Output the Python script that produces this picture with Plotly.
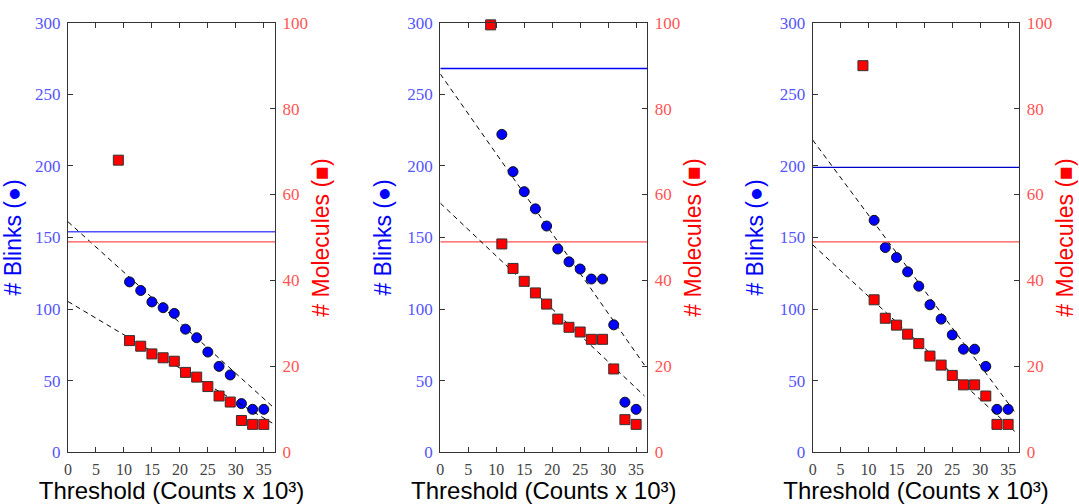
import plotly.graph_objects as go

# Threshold values (counts x 10^3)
blink_thresholds = [11, 13, 15, 17, 19, 21, 23, 25, 27, 29, 31, 33, 35]
molecule_thresholds = [9, 11, 13, 15, 17, 19, 21, 23, 25, 27, 29, 31, 33, 35]

# Number of blinks per threshold, one list per panel
blinks_a = [119, 113, 105, 101, 97, 86, 80, 70, 60, 54, 34, 30, 30]
blinks_b = [222, 196, 182, 170, 158, 142, 133, 128, 121, 121, 89, 35, 30]
blinks_c = [162, 143, 136, 126, 116, 103, 93, 82, 72, 72, 60, 30, 30]

# Number of molecules per threshold, one list per panel
molecules_a = [68, 26, 24.7, 22.9, 22, 21.2, 18.6, 17.5, 15.3, 13.1, 11.7, 7.4, 6.5, 6.5]
molecules_b = [99.5, 48.5, 42.8, 39.8, 37.1, 34.5, 31, 29.1, 28, 26.3, 26.3, 19.4, 7.6, 6.5]
molecules_c = [90, 35.5, 31.2, 29.6, 27.5, 25.3, 22.4, 20.3, 17.9, 15.7, 15.7, 13.1, 6.5, 6.5]

# Reference levels (horizontal lines)
blink_levels = [154, 268, 199]
molecule_levels = [49, 49, 49]
blink_level_colors = ["#5050ff", "#0000ff", "#0000c8"]

# Linear fits: intercept and slope
blink_fit_intercepts = [161, 264.2, 218.1]
blink_fit_slopes = [-3.53, -5.57, -5.25]
molecule_fit_intercepts = [35.1, 58.0, 48.3]
molecule_fit_slopes = [-0.775, -1.23, -1.2]
fit_x_range = [0, 36.5]

x_range = [0, 37]
blink_range = [0, 300]
molecule_range = [0, 100]
x_ticks = [0, 5, 10, 15, 20, 25, 30, 35]
blink_ticks = [0, 50, 100, 150, 200, 250, 300]
molecule_ticks = [0, 20, 40, 60, 80, 100]

blinks = [blinks_a, blinks_b, blinks_c]
molecules = [molecules_a, molecules_b, molecules_c]

W, H = 1079, 504
x_domains = [[68 / W, 275 / W], [440.3 / W, 647.3 / W], [812.7 / W, 1019.3 / W]]
y_domain = [1 - 452.3 / H, 1 - 22.7 / H]

SERIF = "Liberation Serif"
SANS = "Liberation Sans"
SPINE = "#333333"

fig = go.Figure()

for i in range(3):
    xa = "x" if i == 0 else f"x{i + 1}"
    yl = "y" if i == 0 else f"y{2 * i + 1}"
    yr = f"y{2 * i + 2}"

    # horizontal reference levels
    fig.add_trace(go.Scatter(x=x_range, y=[blink_levels[i]] * 2, mode="lines",
                             line=dict(color=blink_level_colors[i], width=1.3),
                             xaxis=xa, yaxis=yl, showlegend=False, hoverinfo="skip"))
    fig.add_trace(go.Scatter(x=x_range, y=[molecule_levels[i]] * 2, mode="lines",
                             line=dict(color="#ff5050", width=1.3),
                             xaxis=xa, yaxis=yr, showlegend=False, hoverinfo="skip"))

    # linear fits
    fig.add_trace(go.Scatter(
        x=fit_x_range,
        y=[blink_fit_intercepts[i] + blink_fit_slopes[i] * v for v in fit_x_range],
        mode="lines", line=dict(color="black", width=1, dash="5px,4px"),
        xaxis=xa, yaxis=yl, showlegend=False, hoverinfo="skip"))
    fig.add_trace(go.Scatter(
        x=fit_x_range,
        y=[molecule_fit_intercepts[i] + molecule_fit_slopes[i] * v for v in fit_x_range],
        mode="lines", line=dict(color="black", width=1, dash="5px,4px"),
        xaxis=xa, yaxis=yr, showlegend=False, hoverinfo="skip"))

    # data points
    fig.add_trace(go.Scatter(x=blink_thresholds, y=blinks[i], mode="markers",
                             marker=dict(symbol="circle", size=10, color="#0000ff",
                                         line=dict(color="#111111", width=1)),
                             xaxis=xa, yaxis=yl, showlegend=False, cliponaxis=False))
    fig.add_trace(go.Scatter(x=molecule_thresholds, y=molecules[i], mode="markers",
                             marker=dict(symbol="square", size=10, color="#ff0000",
                                         line=dict(color="#333333", width=1)),
                             xaxis=xa, yaxis=yr, showlegend=False, cliponaxis=False))

    common = dict(showgrid=False, zeroline=False, showline=True, linecolor=SPINE,
                  linewidth=1.3, ticks="inside", ticklen=5, tickcolor=SPINE, tickwidth=1,
                  automargin=False)

    fig.layout[("xaxis" if i == 0 else f"xaxis{i + 1}")] = dict(
        domain=x_domains[i], range=x_range, tickvals=x_ticks, anchor=yl,
        mirror="ticks", ticklabelstandoff=2,
        tickfont=dict(family=SERIF, size=16, color="#444444"),
        title=dict(text="Threshold (Counts x 10³)",
                   font=dict(family=SANS, size=24, color="black"), standoff=11),
        **common)
    fig.layout[("yaxis" if i == 0 else f"yaxis{2 * i + 1}")] = dict(
        domain=y_domain, range=blink_range, tickvals=blink_ticks, anchor=xa,
        ticklabelstandoff=3,
        tickfont=dict(family=SERIF, size=17, color="#5555ff"),
        title=dict(text="# Blinks (●)", font=dict(family=SANS, size=23, color="#0000ff"),
                   standoff=9),
        **common)
    fig.layout[f"yaxis{2 * i + 2}"] = dict(
        domain=y_domain, range=molecule_range, tickvals=molecule_ticks, anchor=xa,
        overlaying=yl, side="right", ticklabelstandoff=3,
        tickfont=dict(family=SERIF, size=17, color="#ff5555"),
        title=dict(text="# Molecules (■)", font=dict(family=SANS, size=23, color="#ff0000"),
                   standoff=5),
        **common)

fig.update_layout(width=W, height=H, margin=dict(l=0, r=0, t=0, b=0, autoexpand=False),
                  plot_bgcolor="white", paper_bgcolor="white")

fig.write_html("out.html")
